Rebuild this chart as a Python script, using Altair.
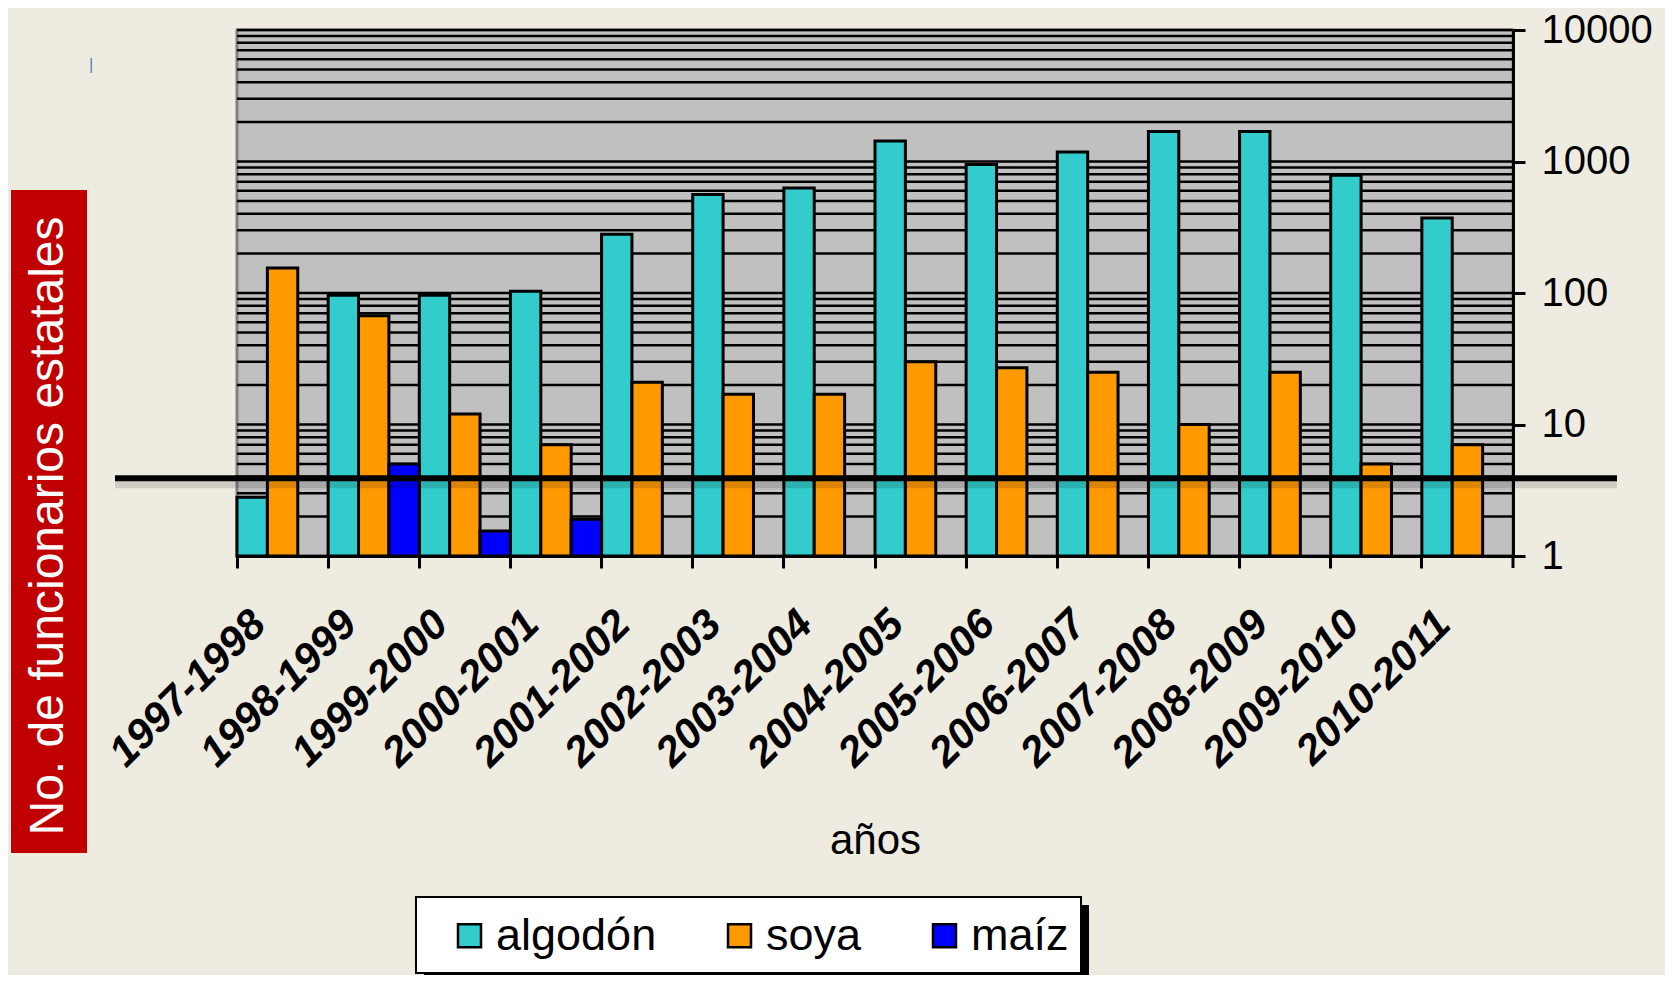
import altair as alt
import pandas as pd

# ---- data ----
years = ["1997-1998", "1998-1999", "1999-2000", "2000-2001", "2001-2002", "2002-2003",
         "2003-2004", "2004-2005", "2005-2006", "2006-2007", "2007-2008", "2008-2009",
         "2009-2010", "2010-2011"]
algodon = [2.8, 96, 96, 103, 280, 560, 630, 1430, 950, 1180, 1690, 1690, 785, 372]
soya = [155, 67, 12, 7, 21, 17, 17, 30, 27, 25, 10, 25, 5, 7]
maiz = [None, 5, 1.55, 1.9, None, None, None, None, None, None, None, None, None, None]
series = ["algodón", "soya", "maíz"]
colors = ["#33CCCC", "#FF9900", "#0000FF"]
threshold = [3.9]
y_ticks = [1, 10, 100, 1000, 10000]
grid_values = [m * 10 ** e for e in range(4) for m in range(1, 10)] + [10000]

rows = []
for name, vals in zip(series, [algodon, soya, maiz]):
    for yr, v in zip(years, vals):
        if v is not None:
            rows.append({"año": yr, "serie": name, "valor": v})
df = pd.DataFrame(rows)

W, H = 1276, 526
FONT = "Liberation Sans, Arial, sans-serif"

yscale = alt.Scale(type="log", domain=[1, 10000])
yaxis = alt.Axis(orient="right", values=y_ticks, format="d", title=None,
                 labelFont=FONT, labelFontSize=40, labelColor="black",
                 labelPadding=16, tickSize=12, tickWidth=3, tickColor="black",
                 domainColor="black", domainWidth=3, grid=False)

grid = alt.Chart(pd.DataFrame({"v": grid_values})).mark_rule(
    color="black", strokeWidth=2.5
).encode(y=alt.Y("v:Q", scale=yscale, axis=yaxis, title=None))

bars = alt.Chart(df).mark_bar(stroke="black", strokeWidth=3).encode(
    x=alt.X("año:N", sort=years,
            scale=alt.Scale(paddingInner=0, paddingOuter=0),
            axis=alt.Axis(title="años", titleFont=FONT, titleFontSize=42,
                          titleFontWeight="normal", titleColor="black",
                          titleY=297, titleBaseline="alphabetic",
                          labelFont=FONT, labelFontSize=42, labelFontWeight="bold",
                          labelFontStyle="italic", labelColor="black", labelLimit=0,
                          labelAngle=-45, labelAlign="right", labelBaseline="top",
                          labelPadding=35, labelOffset=-38,
                          bandPosition=0, tickSize=12, tickWidth=3, tickColor="black",
                          domainColor="black", domainWidth=3, grid=False)),
    xOffset=alt.XOffset("serie:N", sort=series,
                        scale=alt.Scale(domain=series, paddingInner=0, paddingOuter=0)),
    y=alt.Y("valor:Q", scale=yscale, stack=None, axis=yaxis, title=None),
    y2=alt.datum(1),
    color=alt.Color("serie:N", sort=series,
                    scale=alt.Scale(domain=series, range=colors),
                    legend=alt.Legend(orient="none", legendX=210, legendY=883,
                                      direction="horizontal", title=None,
                                      symbolType="square", symbolSize=529,
                                      symbolStrokeColor="black", symbolStrokeWidth=2.5,
                                      symbolOpacity=1, labelLimit=0,
                                      labelFont=FONT, labelFontSize=45, labelColor="black",
                                      labelOffset=4, columnPadding=60, padding=0)),
)

end_tick = alt.Chart(pd.DataFrame({"k": [0]})).mark_rule(color="black", strokeWidth=3).encode(
    x=alt.value(W), y=alt.value(H), y2=alt.value(H + 12))

thr_df = pd.DataFrame({"v": threshold})
thr_shadow = alt.Chart(thr_df).mark_rule(color="black", opacity=0.13, strokeWidth=8, yOffset=6).encode(
    y=alt.Y("v:Q", scale=yscale, axis=yaxis, title=None), x=alt.value(-122), x2=alt.value(1380))
thr = alt.Chart(thr_df).mark_rule(color="black", strokeWidth=6).encode(
    y=alt.Y("v:Q", scale=yscale, axis=yaxis, title=None), x=alt.value(-122), x2=alt.value(1380))

deco = pd.DataFrame({"k": [0]})
red_box = alt.Chart(deco).mark_rect(color="#C00000").encode(
    x=alt.value(-226), x2=alt.value(-150), y=alt.value(160), y2=alt.value(823))
red_text = alt.Chart(pd.DataFrame({"t": ["No. de funcionarios estatales"]})).mark_text(
    angle=270, color="white", font=FONT, fontSize=48, align="center", baseline="middle"
).encode(text="t:N", x=alt.value(-188), y=alt.value(496))
stray = alt.Chart(pd.DataFrame({"t": ["|"]})).mark_text(
    color="#4F81BD", font=FONT, fontSize=16, align="center", baseline="middle"
).encode(text="t:N", x=alt.value(-146), y=alt.value(35))

leg_shadow = alt.Chart(deco).mark_rect(color="black").encode(
    x=alt.value(187), x2=alt.value(852), y=alt.value(875), y2=alt.value(951))
leg_box = alt.Chart(deco).mark_rect(fill="white", stroke="black", strokeWidth=2).encode(
    x=alt.value(179), x2=alt.value(844), y=alt.value(867), y2=alt.value(943))

chart = alt.layer(
    red_box, red_text, stray, leg_shadow, leg_box, grid, bars, end_tick, thr_shadow, thr
).properties(
    width=W, height=H,
    autosize=alt.AutoSizeParams(type="none"),
    padding={"left": 229, "top": 22, "right": 152, "bottom": 419},
    background="#EEECE1",
).configure_view(fill="#C0C0C0", stroke="#808080", strokeWidth=3)

chart.save("out.html", embed_options={"renderer": "svg", "actions": False})
